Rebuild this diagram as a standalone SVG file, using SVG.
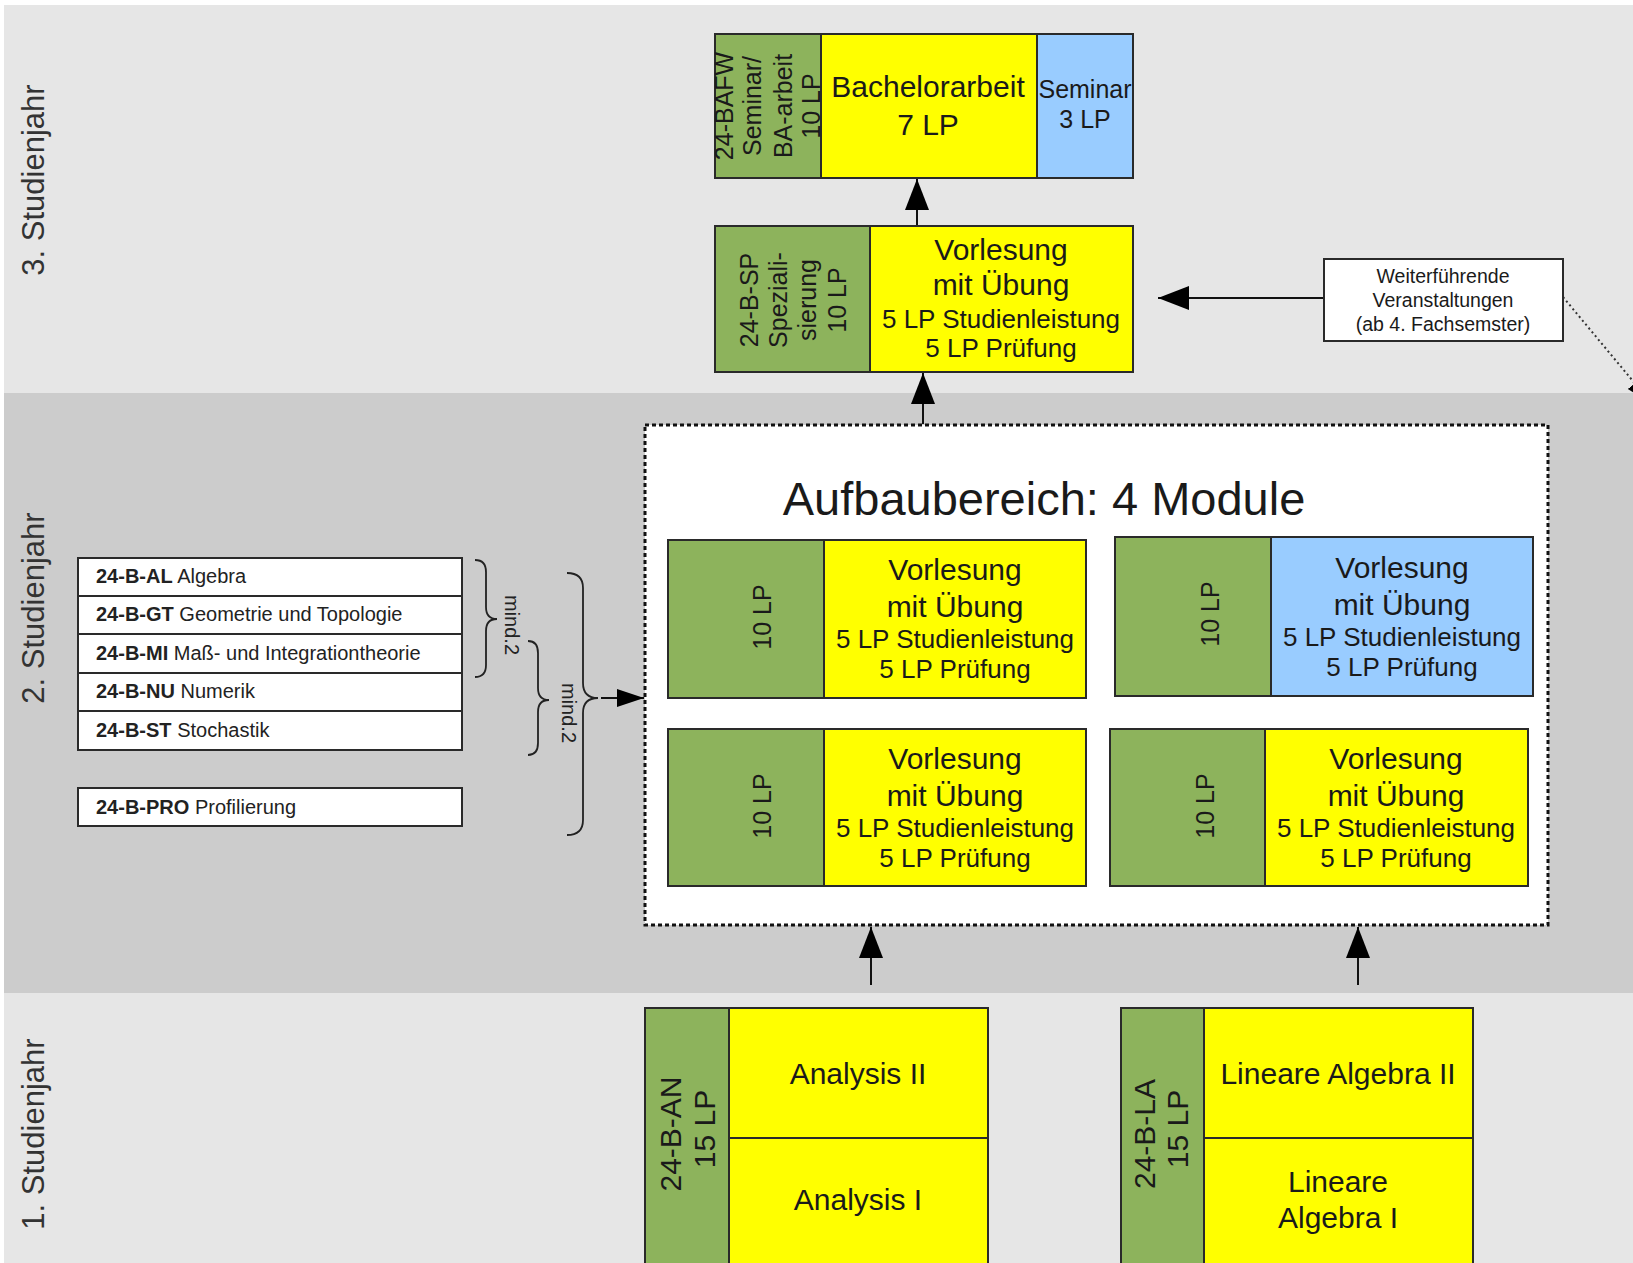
<svg xmlns="http://www.w3.org/2000/svg" width="1633" height="1263" viewBox="0 0 1633 1263">
<defs>
<style>
text{font-family:"Liberation Sans",Arial,sans-serif;fill:#1a1a1a}
.box{stroke:#2a2a2a;stroke-width:2}
.g{fill:#8db35c}
.y{fill:#ffff00}
.b{fill:#99ccff}
.w{fill:#ffffff}
.yr{font-size:31px;fill:#333}
.big{font-size:30px;text-anchor:middle}
.sm{font-size:26px;text-anchor:middle}
.rot{font-size:25px;text-anchor:middle}
.li{font-size:20px;fill:#222}
.li tspan.k{font-weight:bold}
.conn{stroke:#111;stroke-width:2;fill:none}
.brace{stroke:#222;stroke-width:1.8;fill:none}
</style>
<marker id="ah" markerWidth="32" markerHeight="24" refX="31" refY="12" orient="auto" markerUnits="userSpaceOnUse">
<path d="M0,0 L31,12 L0,24 Z" fill="#000"/>
</marker>
<marker id="ahs" markerWidth="28" markerHeight="20" refX="27" refY="10" orient="auto" markerUnits="userSpaceOnUse">
<path d="M0,1 L27,10 L0,19 Z" fill="#000"/>
</marker>
</defs>
<rect width="1633" height="1263" fill="#ffffff"/>
<g id="bands">
<rect x="4" y="5" width="1629" height="388" fill="#e6e6e6"/>
<rect x="4" y="393" width="1629" height="600" fill="#cccccc"/>
<rect x="4" y="993" width="1629" height="270" fill="#e6e6e6"/>
<text class="yr" transform="translate(44,180) rotate(-90)" text-anchor="middle">3. Studienjahr</text>
<text class="yr" transform="translate(44,608) rotate(-90)" text-anchor="middle">2. Studienjahr</text>
<text class="yr" transform="translate(44,1134) rotate(-90)" text-anchor="middle">1. Studienjahr</text>
</g>

<g id="connectors">
<line class="conn" x1="917" y1="226" x2="917" y2="179" marker-end="url(#ah)"/>
<line class="conn" x1="923" y1="424" x2="923" y2="373" marker-end="url(#ah)"/>
<line class="conn" x1="1324" y1="298" x2="1158" y2="298" marker-end="url(#ah)"/>
<line x1="1563" y1="297" x2="1652" y2="404" stroke="#333" stroke-width="2" stroke-dasharray="2 3" marker-end="url(#ahs)"/>
<line class="conn" x1="871" y1="985" x2="871" y2="927" marker-end="url(#ah)"/>
<line class="conn" x1="1358" y1="985" x2="1358" y2="927" marker-end="url(#ah)"/>
<line class="conn" x1="601" y1="698" x2="644" y2="698" marker-end="url(#ahs)"/>
<path class="brace" d="M475,560 Q486,560 486,572 L486,607 Q486,619 497,619 Q486,619 486,631 L486,665 Q486,677 475,677"/>
<path class="brace" d="M528,641 Q538,641 538,653 L538,688 Q538,700 549,700 Q538,700 538,712 L538,743 Q538,755 528,755"/>
<path class="brace" d="M567,573 Q583,573 583,588 L583,683 Q583,698 598,698 Q583,698 583,713 L583,820 Q583,835 567,835"/>
<text class="li" font-size="19" transform="translate(505,625) rotate(90)" text-anchor="middle">mind.2</text>
<text class="li" font-size="19" transform="translate(562,713) rotate(90)" text-anchor="middle">mind.2</text>
</g>

<g id="node-bafw">
<rect class="box g" x="715" y="34" width="106" height="144"/>
<rect class="box y" x="821" y="34" width="216" height="144"/>
<rect class="box b" x="1037" y="34" width="96" height="144"/>
<text class="rot" transform="translate(733,106) rotate(-90)">24-BAFW</text>
<text class="rot" transform="translate(761,106) rotate(-90)">Seminar/</text>
<text class="rot" transform="translate(792,106) rotate(-90)">BA-arbeit</text>
<text class="rot" transform="translate(820,106) rotate(-90)">10 LP</text>
<text class="big" x="928" y="97" font-size="32">Bachelorarbeit</text>
<text class="big" x="928" y="135" font-size="32">7 LP</text>
<text class="rot" x="1085" y="98">Seminar</text>
<text class="rot" x="1085" y="128">3 LP</text>
</g>

<g id="node-sp">
<rect class="box g" x="715" y="226" width="155" height="146"/>
<rect class="box y" x="870" y="226" width="263" height="146"/>
<text class="rot" transform="translate(758,300) rotate(-90)">24-B-SP</text>
<text class="rot" transform="translate(787,300) rotate(-90)">Speziali-</text>
<text class="rot" transform="translate(816,300) rotate(-90)">sierung</text>
<text class="rot" transform="translate(846,300) rotate(-90)">10 LP</text>
<text class="big" x="1001" y="260">Vorlesung</text>
<text class="big" x="1001" y="295">mit Übung</text>
<text class="sm" x="1001" y="328">5 LP Studienleistung</text>
<text class="sm" x="1001" y="357">5 LP Prüfung</text>
</g>

<g id="node-weiter">
<rect class="box w" x="1324" y="259" width="239" height="82"/>
<text x="1443" y="283" font-size="19.5" text-anchor="middle" fill="#333">Weiterführende</text>
<text x="1443" y="307" font-size="19.5" text-anchor="middle" fill="#333">Veranstaltungen</text>
<text x="1443" y="331" font-size="19.5" text-anchor="middle" fill="#333">(ab 4. Fachsemster)</text>
</g>

<g id="node-aufbau">
<rect x="645" y="425" width="903" height="500" fill="#ffffff" stroke="#111" stroke-width="3" stroke-dasharray="4 3"/>
<text x="1044" y="515" font-size="47" text-anchor="middle" fill="#111">Aufbaubereich: 4 Module</text>
</g>

<g id="node-mod1">
<rect class="box g" x="668" y="540" width="156" height="158"/>
<rect class="box y" x="824" y="540" width="262" height="158"/>
<text class="rot" transform="translate(771,617) rotate(-90)">10 LP</text>
<text class="big" x="955" y="580">Vorlesung</text>
<text class="big" x="955" y="617">mit Übung</text>
<text class="sm" x="955" y="648">5 LP Studienleistung</text>
<text class="sm" x="955" y="678">5 LP Prüfung</text>
</g>

<g id="node-mod2">
<rect class="box g" x="1115" y="537" width="156" height="159"/>
<rect class="box b" x="1271" y="537" width="262" height="159"/>
<text class="rot" transform="translate(1219,614) rotate(-90)">10 LP</text>
<text class="big" x="1402" y="578">Vorlesung</text>
<text class="big" x="1402" y="615">mit Übung</text>
<text class="sm" x="1402" y="646">5 LP Studienleistung</text>
<text class="sm" x="1402" y="676">5 LP Prüfung</text>
</g>

<g id="node-mod3">
<rect class="box g" x="668" y="729" width="156" height="157"/>
<rect class="box y" x="824" y="729" width="262" height="157"/>
<text class="rot" transform="translate(771,806) rotate(-90)">10 LP</text>
<text class="big" x="955" y="769">Vorlesung</text>
<text class="big" x="955" y="806">mit Übung</text>
<text class="sm" x="955" y="837">5 LP Studienleistung</text>
<text class="sm" x="955" y="867">5 LP Prüfung</text>
</g>

<g id="node-mod4">
<rect class="box g" x="1110" y="729" width="155" height="157"/>
<rect class="box y" x="1265" y="729" width="263" height="157"/>
<text class="rot" transform="translate(1214,806) rotate(-90)">10 LP</text>
<text class="big" x="1396" y="769">Vorlesung</text>
<text class="big" x="1396" y="806">mit Übung</text>
<text class="sm" x="1396" y="837">5 LP Studienleistung</text>
<text class="sm" x="1396" y="867">5 LP Prüfung</text>
</g>

<g id="node-list">
<rect class="box w" x="78" y="558" width="384" height="38"/>
<rect class="box w" x="78" y="596" width="384" height="38"/>
<rect class="box w" x="78" y="634" width="384" height="39"/>
<rect class="box w" x="78" y="673" width="384" height="38"/>
<rect class="box w" x="78" y="711" width="384" height="39"/>
<text class="li" x="96" y="583"><tspan class="k">24-B-AL</tspan> Algebra</text>
<text class="li" x="96" y="621"><tspan class="k">24-B-GT</tspan> Geometrie und Topologie</text>
<text class="li" x="96" y="660"><tspan class="k">24-B-MI</tspan> Maß- und Integrationtheorie</text>
<text class="li" x="96" y="698"><tspan class="k">24-B-NU</tspan> Numerik</text>
<text class="li" x="96" y="737"><tspan class="k">24-B-ST</tspan> Stochastik</text>
</g>

<g id="node-pro">
<rect class="box w" x="78" y="788" width="384" height="38"/>
<text class="li" x="96" y="814"><tspan class="k">24-B-PRO</tspan> Profilierung</text>
</g>

<g id="node-an">
<rect class="box g" x="645" y="1008" width="84" height="260"/>
<rect class="box y" x="729" y="1008" width="259" height="130"/>
<rect class="box y" x="729" y="1138" width="259" height="130"/>
<text class="big" font-size="31" transform="translate(681,1134) rotate(-90)">24-B-AN</text>
<text class="big" font-size="31" transform="translate(715,1129) rotate(-90)">15 LP</text>
<text class="big" x="858" y="1084">Analysis II</text>
<text class="big" x="858" y="1210">Analysis I</text>
</g>

<g id="node-la">
<rect class="box g" x="1121" y="1008" width="83" height="260"/>
<rect class="box y" x="1204" y="1008" width="269" height="130"/>
<rect class="box y" x="1204" y="1138" width="269" height="130"/>
<text class="big" font-size="31" transform="translate(1155,1134) rotate(-90)">24-B-LA</text>
<text class="big" font-size="31" transform="translate(1188,1129) rotate(-90)">15 LP</text>
<text class="big" x="1338" y="1084">Lineare Algebra II</text>
<text class="big" x="1338" y="1192">Lineare</text>
<text class="big" x="1338" y="1228">Algebra I</text>
</g>
</svg>
